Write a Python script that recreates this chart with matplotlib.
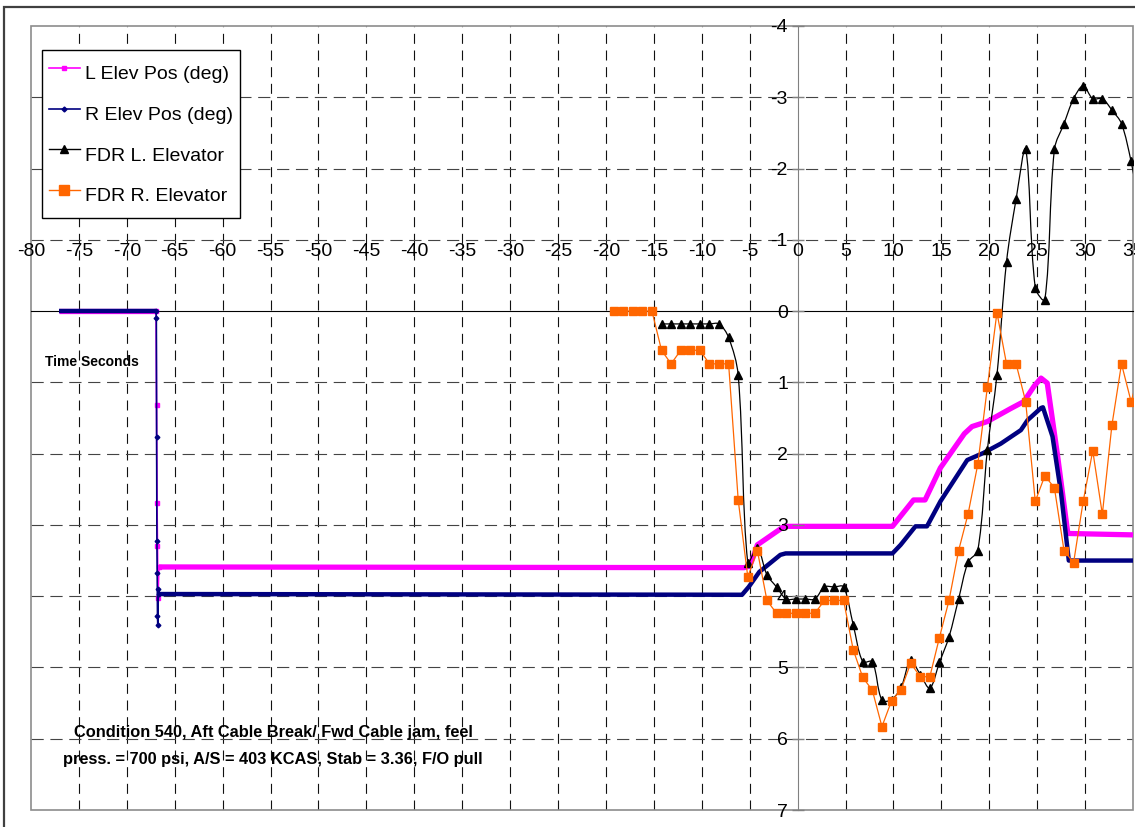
import numpy as np
import matplotlib
matplotlib.use("Agg")
import matplotlib.pyplot as plt
from matplotlib.path import Path
from matplotlib.patches import PathPatch, Rectangle
from matplotlib.lines import Line2D

plt.rcParams['font.family'] = ['Liberation Sans', 'DejaVu Sans']
plt.rcParams['axes.unicode_minus'] = False

# ---------------- data ----------------
# L Elev Pos (deg) - dense recording, given by its breakpoints
l_pos_t = [-77.1, -66.95, -66.9, -66.85, -66.8, -66.75, -66.65, -5.6, -5.0, -4.55, -4.2, -1.4,
           9.9, 12.1, 13.3, 14.9, 17.4, 18.2, 19.8, 22.2, 23.6, 24.7, 25.4, 26.05, 27.1, 28.2, 35.0]
l_pos_v = [0.0, 0.0, 1.32, 2.69, 3.30, 4.03, 3.59, 3.60, 3.58, 3.42, 3.28, 3.02,
           3.02, 2.65, 2.65, 2.20, 1.72, 1.62, 1.55, 1.37, 1.27, 1.05, 0.94, 1.01, 2.00, 3.12, 3.14]
l_step = (1, 6)   # index range of the sparse step transient

# R Elev Pos (deg)
r_pos_t = [-77.1, -66.95, -66.92, -66.89, -66.86, -66.83, -66.8, -66.77, -66.7, -66.6, -5.8, -5.1,
           -4.0, -1.8, -1.25, 9.9, 10.75, 12.3, 13.5, 14.9, 17.7, 19.4, 21.2, 23.3, 24.0, 25.4,
           25.6, 26.6, 27.5, 28.3, 35.0]
r_pos_v = [0.0, 0.0, 0.10, 1.76, 3.22, 3.68, 4.28, 4.40, 3.90, 3.97, 3.98, 3.87,
           3.66, 3.42, 3.40, 3.40, 3.28, 3.02, 3.02, 2.67, 2.09, 1.99, 1.86, 1.67, 1.53, 1.36,
           1.35, 1.76, 2.56, 3.50, 3.50]
r_step = (1, 9)

# FDR L. Elevator (1 s samples)
fdr_l_t = [-14.2, -13.2, -12.2, -11.2, -10.2, -9.2, -8.2, -7.2, -6.2, -5.2, -4.2, -3.2, -2.2,
           -1.2, -0.2, 0.8, 1.8, 2.8, 3.8, 4.8, 5.8, 6.8, 7.8, 8.8, 9.8, 10.8, 11.8, 12.8, 13.8,
           14.8, 15.8, 16.8, 17.8, 18.8, 19.8, 20.8, 21.8, 22.8, 23.8, 24.8, 25.8, 26.8, 27.8,
           28.8, 29.8, 30.8, 31.8, 32.8, 33.8, 34.8, 35.8]
fdr_l_v = [0.18, 0.18, 0.18, 0.18, 0.18, 0.18, 0.18, 0.37, 0.90, 3.53, 3.32, 3.70, 3.87,
           4.04, 4.04, 4.04, 4.04, 3.87, 3.87, 3.87, 4.40, 4.92, 4.92, 5.46, 5.45, 5.28, 4.90,
           5.10, 5.29, 4.93, 4.57, 4.04, 3.52, 3.36, 1.95, 0.90, -0.69, -1.57, -2.27, -0.33,
           -0.16, -2.27, -2.63, -2.98, -3.16, -2.98, -2.98, -2.82, -2.63, -2.10, -1.40]

# FDR R. Elevator (1 s samples)
fdr_r_t = [-19.2, -18.2, -17.2, -16.2, -15.2, -14.2, -13.2, -12.2, -11.2, -10.2, -9.2, -8.2,
           -7.2, -6.2, -5.2, -4.2, -3.2, -2.2, -1.2, -0.2, 0.8, 1.8, 2.8, 3.8, 4.8, 5.8, 6.8,
           7.8, 8.8, 9.8, 10.8, 11.8, 12.8, 13.8, 14.8, 15.8, 16.8, 17.8, 18.8, 19.8, 20.8,
           21.8, 22.8, 23.8, 24.8, 25.8, 26.8, 27.8, 28.8, 29.8, 30.8, 31.8, 32.8, 33.8, 34.8, 35.8]
fdr_r_v = [0.0, 0.0, 0.0, 0.0, 0.0, 0.55, 0.74, 0.55, 0.55, 0.55, 0.74, 0.74,
           0.74, 2.65, 3.73, 3.36, 4.06, 4.24, 4.24, 4.24, 4.24, 4.24, 4.06, 4.06, 4.06, 4.75, 5.14,
           5.32, 5.83, 5.47, 5.31, 4.94, 5.13, 5.13, 4.58, 4.06, 3.36, 2.84, 2.15, 1.07, 0.02,
           0.74, 0.74, 1.27, 2.67, 2.31, 2.48, 3.36, 3.53, 2.67, 1.96, 2.85, 1.60, 0.74, 1.27, 0.80]

labels = ['L Elev Pos (deg)', 'R Elev Pos (deg)', 'FDR L. Elevator', 'FDR R. Elevator']
x_ticks = list(range(-80, 36, 5))
y_ticks = list(range(-4, 8))
note = ("Condition 540, Aft Cable Break/ Fwd Cable jam, feel\n"
        "press. = 700 psi, A/S = 403 KCAS, Stab = 3.36, F/O pull")

C_L, C_R, C_FL, C_FR = '#FF00FF', '#000080', '#000000', '#FF6600'

# ---------------- figure ----------------
W, H = 1135, 827
fig = plt.figure(figsize=(W / 100, H / 100), dpi=100)
fig.patch.set_facecolor('white')
# outer chart border
fig.patches.append(Rectangle((4 / W, -0.1), 1.2, 1 - 7 / H + 0.1, transform=fig.transFigure,
                             fill=False, ec='#404040', lw=1.6))

ax = fig.add_axes([31 / W, 1 - 810 / H, 1102 / W, 784 / H])
ax.set_xlim(-80, 35)
ax.set_ylim(7, -4)

# axes crossing at zero
ax.spines['left'].set_position(('data', 0))
ax.spines['left'].set_color('#808080')
ax.spines['left'].set_zorder(1.5)
ax.spines['top'].set_position(('data', 0))
ax.spines['top'].set_color('black')
ax.spines['top'].set_zorder(1.5)
ax.spines['bottom'].set_visible(False)
ax.spines['right'].set_visible(False)
ax.add_patch(Rectangle((0, 0), 1, 1, transform=ax.transAxes, fill=False, ec='#8c8c8c', lw=1.2,
                       clip_on=False, zorder=1.4))

ax.xaxis.set_ticks_position('top')
ax.set_xticks(x_ticks)
ax.set_yticks(y_ticks)
ax.tick_params(axis='x', direction='inout', length=0, pad=37, labelsize=14)
ax.tick_params(axis='y', direction='inout', length=8, width=1, color='#808080', pad=3, labelsize=14)
ax.set_axisbelow(False)

# grid (dashed), drawn below the data
for xv in x_ticks:
    if xv not in (0, x_ticks[0], x_ticks[-1]):
        ax.axvline(xv, color='#111111', lw=0.8, ls=(0, (9, 6)), zorder=1)
for yv in y_ticks:
    if yv not in (0, y_ticks[0], y_ticks[-1]):
        ax.axhline(yv, color='#444444', lw=0.8, ls=(0, (11, 6)), zorder=1)

# --- dense position traces: thick line for the densely sampled parts, thin for the step
def dense_trace(t, v, step, color, lw, marker, ms, z):
    t = np.asarray(t); v = np.asarray(v)
    a, b = step
    ax.plot(t[:a + 1], v[:a + 1], color=color, lw=lw, solid_capstyle='butt', zorder=z)
    ax.plot(t[b:], v[b:], color=color, lw=lw, solid_capstyle='butt', zorder=z)
    ax.plot(t[a:b + 1], v[a:b + 1], color=color, lw=1.2, marker=marker, ms=ms, zorder=z)

dense_trace(l_pos_t, l_pos_v, l_step, C_L, 3.8, 's', 2.8, 2.0)
dense_trace(r_pos_t, r_pos_v, r_step, C_R, 3.2, 'D', 2.4, 2.1)

# --- FDR L: smoothed line (Bezier through the samples, spreadsheet-style smoothing)
pts = np.column_stack([fdr_l_t, fdr_l_v]).astype(float)
pix = ax.transData.transform(pts)
seg = np.hypot(*np.diff(pix, axis=0).T)
n = len(pts)
verts = [pts[0]]
codes = [Path.MOVETO]
tension = 1 / 3
for i in range(n - 1):
    p1, p2 = pts[i], pts[i + 1]
    d12 = seg[i]
    if i > 0:
        d01 = seg[i - 1]
        c1 = p1 + (p2 - pts[i - 1]) * tension * d12 / (d01 + d12)
    else:
        c1 = p1 + (p2 - p1) * tension * 0.5
    if i + 2 < n:
        d23 = seg[i + 1]
        c2 = p2 - (pts[i + 2] - p1) * tension * d12 / (d12 + d23)
    else:
        c2 = p2 - (p2 - p1) * tension * 0.5
    verts += [c1, c2, p2]
    codes += [Path.CURVE4] * 3
ax.add_patch(PathPatch(Path(verts, codes), fill=False, ec=C_FL, lw=0.9, zorder=2.2))
ax.plot(fdr_l_t, fdr_l_v, ls='none', marker='^', ms=5.2, color=C_FL, zorder=2.2)

# --- FDR R
ax.plot(fdr_r_t, fdr_r_v, color=C_FR, lw=0.9, marker='s', ms=5.8, mec=C_FR, zorder=2.3)

# legend
handles = [Line2D([], [], color=C_L, lw=1.2, marker='s', ms=3),
           Line2D([], [], color=C_R, lw=1.2, marker='D', ms=2.5),
           Line2D([], [], color=C_FL, lw=1.0, marker='^', ms=5.5),
           Line2D([], [], color=C_FR, lw=1.0, marker='s', ms=7)]
leg = ax.legend(handles, labels, loc='upper left', bbox_to_anchor=(42 / W, 1 - 50 / H),
                bbox_transform=fig.transFigure, fontsize=14, frameon=True, fancybox=False,
                edgecolor='black', framealpha=1, handlelength=1.6, handletextpad=0.25,
                handleheight=2.2, labelspacing=0.42, borderpad=0.35, borderaxespad=0)
leg.get_frame().set_linewidth(1.0)
leg.set_zorder(10)

fig.text(45 / W, 1 - 362 / H, 'Time Seconds', fontsize=10, fontweight='bold',
         ha='left', va='center')
fig.text(273 / W, 1 - 746 / H, note, fontsize=11.8, fontweight='bold', ha='center',
         va='center', multialignment='center', linespacing=1.95)

fig.savefig('out.png', dpi=100)
